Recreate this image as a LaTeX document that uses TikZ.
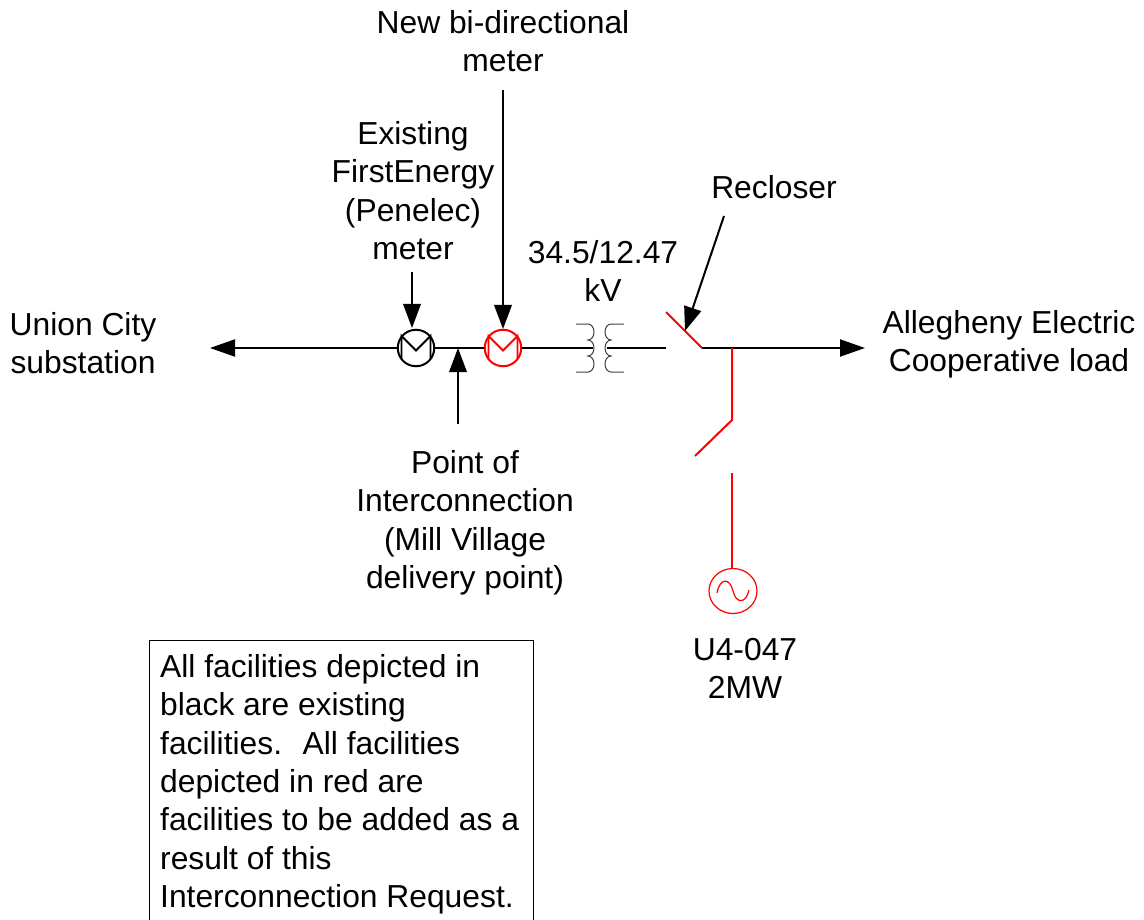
\documentclass[tikz,border=0pt]{standalone}
\usepackage{fontspec}
\setmainfont{Liberation Sans}
\usetikzlibrary{arrows.meta,shapes.geometric}
\definecolor{addred}{RGB}{255,0,0}
\tikzset{
  x=1pt,y=-1pt,
  lbl/.style={align=center,inner sep=0pt,font=\fontsize{31.8}{38.4}\selectfont,anchor=north},
  wire/.style={line width=2pt,black},
  redwire/.style={line width=2pt,addred},
  arr/.style={line width=2pt,black,-{Triangle[length=24pt,width=17.5pt]},shorten >=0pt},
  meterb/.style={circle,draw,line width=2pt,minimum size=36.5pt,inner sep=0pt},
  coil/.style={line width=1pt,black!75},
}
\begin{document}
\begin{tikzpicture}
\useasboundingbox (0,0) rectangle (1144,920);
\clip (0,0) rectangle (1144,920);
% labels
\node[lbl] (lnew) at (503,10) {New bi-directional\\meter};
\node[lbl] (lexist) at (413,121) {Existing\\FirstEnergy\\(Penelec)\\meter};
\node[lbl] (ltrans) at (603,240) {34.5/12.47\\kV};
\node[lbl] (lrec) at (774,175) {Recloser};
\node[lbl] (lunion) at (83,312) {Union City\\substation};
\node[lbl] (lalle) at (1009,310) {Allegheny Electric\\Cooperative load};
\node[lbl] (lpoi) at (465,450) {Point of\\Interconnection\\(Mill Village\\delivery point)};
\node[lbl] (lgen) at (745,638) {U4-047\\2MW};
% note box
\node[draw,line width=1.3pt,anchor=north west,minimum width=384pt,minimum height=300pt,inner sep=0pt] (nbox) at (149,640) {};
\node[inner sep=0pt,anchor=north west,align=left,font=\fontsize{31.8}{38.4}\selectfont] (ntext) at (160,654)
 {All facilities depicted in\\black are existing\\facilities.~ All facilities\\depicted in red are\\facilities to be added as a\\result of this\\Interconnection Request.};
% symbols
\node[meterb,draw=black] (m1) at (416,348) {};
\node[meterb,draw=addred] (m2) at (503,348) {};
\draw[line width=1.8pt,black] ([xshift=-14.5pt,yshift=-11pt]m1.center) -- ([xshift=-14.5pt,yshift=12pt]m1.center) -- ([yshift=-2.5pt]m1.center) -- ([xshift=14.5pt,yshift=12pt]m1.center) -- ([xshift=14.5pt,yshift=-11pt]m1.center);
\draw[line width=1.8pt,addred] ([xshift=-14.5pt,yshift=-11pt]m2.center) -- ([xshift=-14.5pt,yshift=12pt]m2.center) -- ([yshift=-2.5pt]m2.center) -- ([xshift=14.5pt,yshift=12pt]m2.center) -- ([xshift=14.5pt,yshift=-11pt]m2.center);
% coordinates
\coordinate (wl) at (210,348);
\coordinate (poi) at (458,348);
\coordinate (poib) at (458,424);
\coordinate (cl) at (593,348);
\coordinate (cr) at (607,348);
\coordinate (swa) at (666,348);
\coordinate (rt) at (666,312);
\coordinate (rb) at (702,348);
\coordinate (junc) at (732,348);
\coordinate (wr) at (865,348);
\coordinate (ds1) at (732,420);
\coordinate (ds2) at (695,456);
\coordinate (gt) at (732,473);
\coordinate (rtip) at (685,331);
\coordinate (rtail) at (724,216);
\coordinate (e1) at (412,272);
\coordinate (e2) at (412,328);
\coordinate (n1) at (503,90);
\coordinate (n2) at (503,329);
% generator
\node[draw=addred,ellipse,line width=1.2pt,minimum width=48pt,minimum height=45pt,inner sep=0pt] (gen) at (733,591) {};
\draw[addred,line width=1.2pt] (717,593) .. controls (720,577) and (730,578) .. (733,591) .. controls (736,604) and (746,604) .. (749,590);
% transformer
\draw[coil] (576,324) -- (588,324) arc[start angle=90,end angle=-90,x radius=6pt,y radius=8pt] arc[start angle=90,end angle=-90,x radius=6pt,y radius=8pt] arc[start angle=90,end angle=-90,x radius=6pt,y radius=8pt] -- (576,372);
\draw[coil] (624,324) -- (611,324) arc[start angle=90,end angle=270,x radius=6pt,y radius=8pt] arc[start angle=90,end angle=270,x radius=6pt,y radius=8pt] arc[start angle=90,end angle=270,x radius=6pt,y radius=8pt] -- (624,372);
% wires
\draw[wire,-{Triangle[length=25pt,width=17pt]}] (m1.west) -- (wl);
\draw[wire] (m1.east) -- (m2.west);
\draw[wire] (m2.east) -- (cl);
\draw[wire] (cr) -- (swa);
\draw[wire,-{Triangle[length=25pt,width=17pt]}] (rb) -- (wr);
\draw[redwire] (rt) -- (rb);
\draw[redwire] (junc) -- (ds1) -- (ds2);
\draw[redwire] (gt) -- (gt|-gen.north);
% leaders
\draw[arr] (e1) -- (e2);
\draw[arr] (n1) -- (n2);
\draw[arr] (poib) -- (poi);
\draw[arr] (rtail) -- (rtip);
\end{tikzpicture}
\end{document}
